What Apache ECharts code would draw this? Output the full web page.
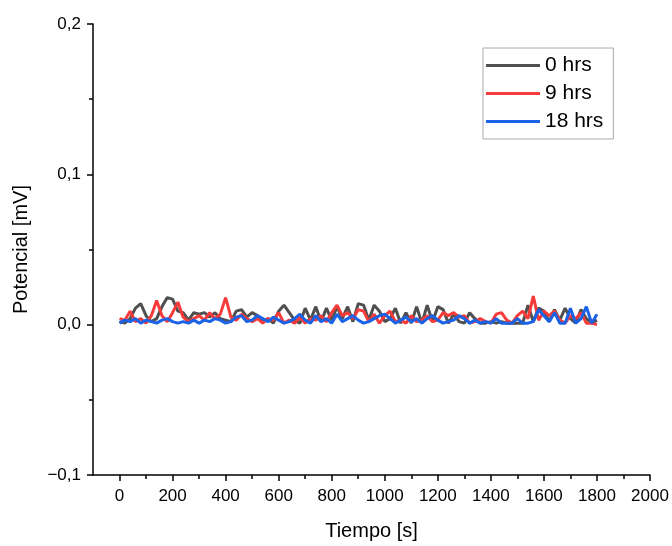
<!DOCTYPE html>
<html><head><meta charset="utf-8">
<script src="https://cdn.jsdelivr.net/npm/echarts@6/dist/echarts.min.js"></script>
<style>html,body{margin:0;padding:0;background:#fff}#c{width:672px;height:546px}</style>
</head><body><div id="c"></div>
<script>
const times = [0,20,40,60,80,100,120,140,160,180,200,220,240,260,280,300,320,340,360,380,400,420,440,460,480,500,520,540,560,580,600,620,640,660,680,700,720,740,760,780,800,820,840,860,880,900,920,940,960,980,1000,1020,1040,1060,1080,1100,1120,1140,1160,1180,1200,1220,1240,1260,1280,1300,1320,1340,1360,1380,1400,1420,1440,1460,1480,1500,1520,1540,1560,1580,1600,1620,1640,1660,1680,1700,1720,1740,1760,1780,1800];
const hrs0 = [0.002,0.001,0.004,0.011,0.014,0.006,0.002,0.004,0.012,0.018,0.017,0.009,0.008,0.003,0.008,0.007,0.008,0.005,0.008,0.004,0.003,0.002,0.009,0.010,0.005,0.008,0.006,0.002,0.004,0.001,0.009,0.013,0.008,0.003,0.001,0.011,0.003,0.012,0.002,0.011,0.003,0.012,0.004,0.012,0.002,0.014,0.013,0.003,0.013,0.009,0.002,0.004,0.011,0.001,0.008,0.001,0.012,0.001,0.013,0.002,0.012,0.010,0.001,0.007,0.002,0.001,0.008,0.004,0.001,0.001,0.002,0.001,0.002,0.001,0.001,0.001,0.001,0.013,0.002,0.011,0.009,0.002,0.010,0.003,0.011,0.004,0.001,0.010,0.004,0.001,0.003];
const hrs9 = [0.004,0.003,0.009,0.002,0.004,0.001,0.006,0.016,0.006,0.002,0.008,0.015,0.005,0.002,0.004,0.006,0.003,0.008,0.004,0.007,0.018,0.005,0.003,0.007,0.004,0.002,0.004,0.001,0.004,0.003,0.008,0.001,0.003,0.001,0.005,0.001,0.004,0.003,0.006,0.002,0.008,0.013,0.006,0.008,0.004,0.010,0.009,0.002,0.007,0.001,0.006,0.009,0.002,0.003,0.001,0.006,0.002,0.003,0.006,0.002,0.003,0.008,0.006,0.008,0.005,0.006,0.001,0.002,0.004,0.002,0.001,0.007,0.008,0.003,0.001,0.006,0.009,0.004,0.019,0.003,0.009,0.006,0.009,0.003,0.001,0.006,0.004,0.008,0.001,0.001,0.000];
const hrs18 = [0.001,0.003,0.002,0.004,0.001,0.003,0.002,0.001,0.003,0.004,0.002,0.001,0.002,0.001,0.003,0.001,0.003,0.002,0.004,0.003,0.001,0.002,0.005,0.006,0.002,0.003,0.006,0.004,0.002,0.005,0.003,0.001,0.002,0.004,0.007,0.003,0.001,0.006,0.002,0.004,0.001,0.007,0.002,0.004,0.006,0.003,0.001,0.002,0.004,0.006,0.007,0.004,0.001,0.003,0.005,0.002,0.004,0.001,0.004,0.006,0.003,0.001,0.002,0.003,0.006,0.004,0.001,0.003,0.001,0.002,0.001,0.004,0.001,0.001,0.001,0.004,0.001,0.001,0.002,0.010,0.006,0.002,0.008,0.001,0.001,0.011,0.001,0.004,0.012,0.001,0.007];
const seriesNames = ['0 hrs','9 hrs','18 hrs'];
const xMajorTicks = [0,200,400,600,800,1000,1200,1400,1600,1800,2000];
const xMinorTicks = [100,300,500,700,900,1100,1300,1500,1700,1900];

const pair = (arr) => times.map((t,i)=>[t,arr[i]]);
const font = 'Liberation Sans, Arial, sans-serif';
const chart = echarts.init(document.getElementById('c'));
chart.setOption({
  animation:false,
  backgroundColor:'#fff',
  grid:{left:93,right:22,top:24,bottom:71,containLabel:false,outerBoundsMode:'none'},
  legend:{
    orient:'vertical', left:483, top:48,
    padding:[7,10,7,3], itemGap:7,
    borderColor:'#aaa', borderWidth:1,
    itemWidth:54, itemHeight:3, icon:'rect',
    textStyle:{fontFamily:font,fontSize:21,color:'#000'},
    data:seriesNames
  },
  xAxis:[{
    type:'value', min:-100, max:2000,
    name:'Tiempo [s]', nameLocation:'middle', nameGap:46,
    nameTextStyle:{fontFamily:font,fontSize:20,color:'#000'},
    axisLine:{show:true,onZero:false,lineStyle:{color:'#000',width:1.5}},
    axisTick:{show:true,inside:false,length:6,lineStyle:{color:'#000',width:1.5},customValues:xMajorTicks},
    axisLabel:{fontFamily:font,fontSize:17,color:'#000',margin:13,customValues:xMajorTicks,formatter:v=>String(v)},
    splitLine:{show:false}
  },{
    type:'value', min:-100, max:2000, position:'bottom', gridIndex:0,
    axisLine:{show:false,onZero:false},
    axisTick:{show:true,inside:false,length:4,lineStyle:{color:'#000',width:1.5},customValues:xMinorTicks},
    axisLabel:{show:false},
    splitLine:{show:false}
  }],
  yAxis:{
    type:'value', min:-0.1, max:0.2, interval:0.1,
    name:'Potencial [mV]', nameLocation:'middle', nameGap:62,
    nameTextStyle:{fontFamily:font,fontSize:20,color:'#000'},
    axisLine:{show:true,onZero:false,lineStyle:{color:'#000',width:1.5}},
    axisTick:{show:true,inside:false,length:6,lineStyle:{color:'#000',width:1.5}},
    minorTick:{show:true,splitNumber:2,length:4,lineStyle:{color:'#000',width:1.5}},
    axisLabel:{fontFamily:font,fontSize:17,color:'#000',margin:12,
      formatter:v=>(v<0?'\u2212':'')+Math.abs(v).toFixed(1).replace('.',',')},
    splitLine:{show:false}
  },
  series:[
    {name:seriesNames[0],type:'line',data:pair(hrs0),showSymbol:false,lineStyle:{color:'#4f4f4f',width:3},itemStyle:{color:'#4f4f4f'}},
    {name:seriesNames[1],type:'line',data:pair(hrs9),showSymbol:false,lineStyle:{color:'#f73a3a',width:3},itemStyle:{color:'#f73a3a'}},
    {name:seriesNames[2],type:'line',data:pair(hrs18),showSymbol:false,lineStyle:{color:'#1a62e6',width:3},itemStyle:{color:'#1a62e6'}}
  ]
});
</script></body></html>
